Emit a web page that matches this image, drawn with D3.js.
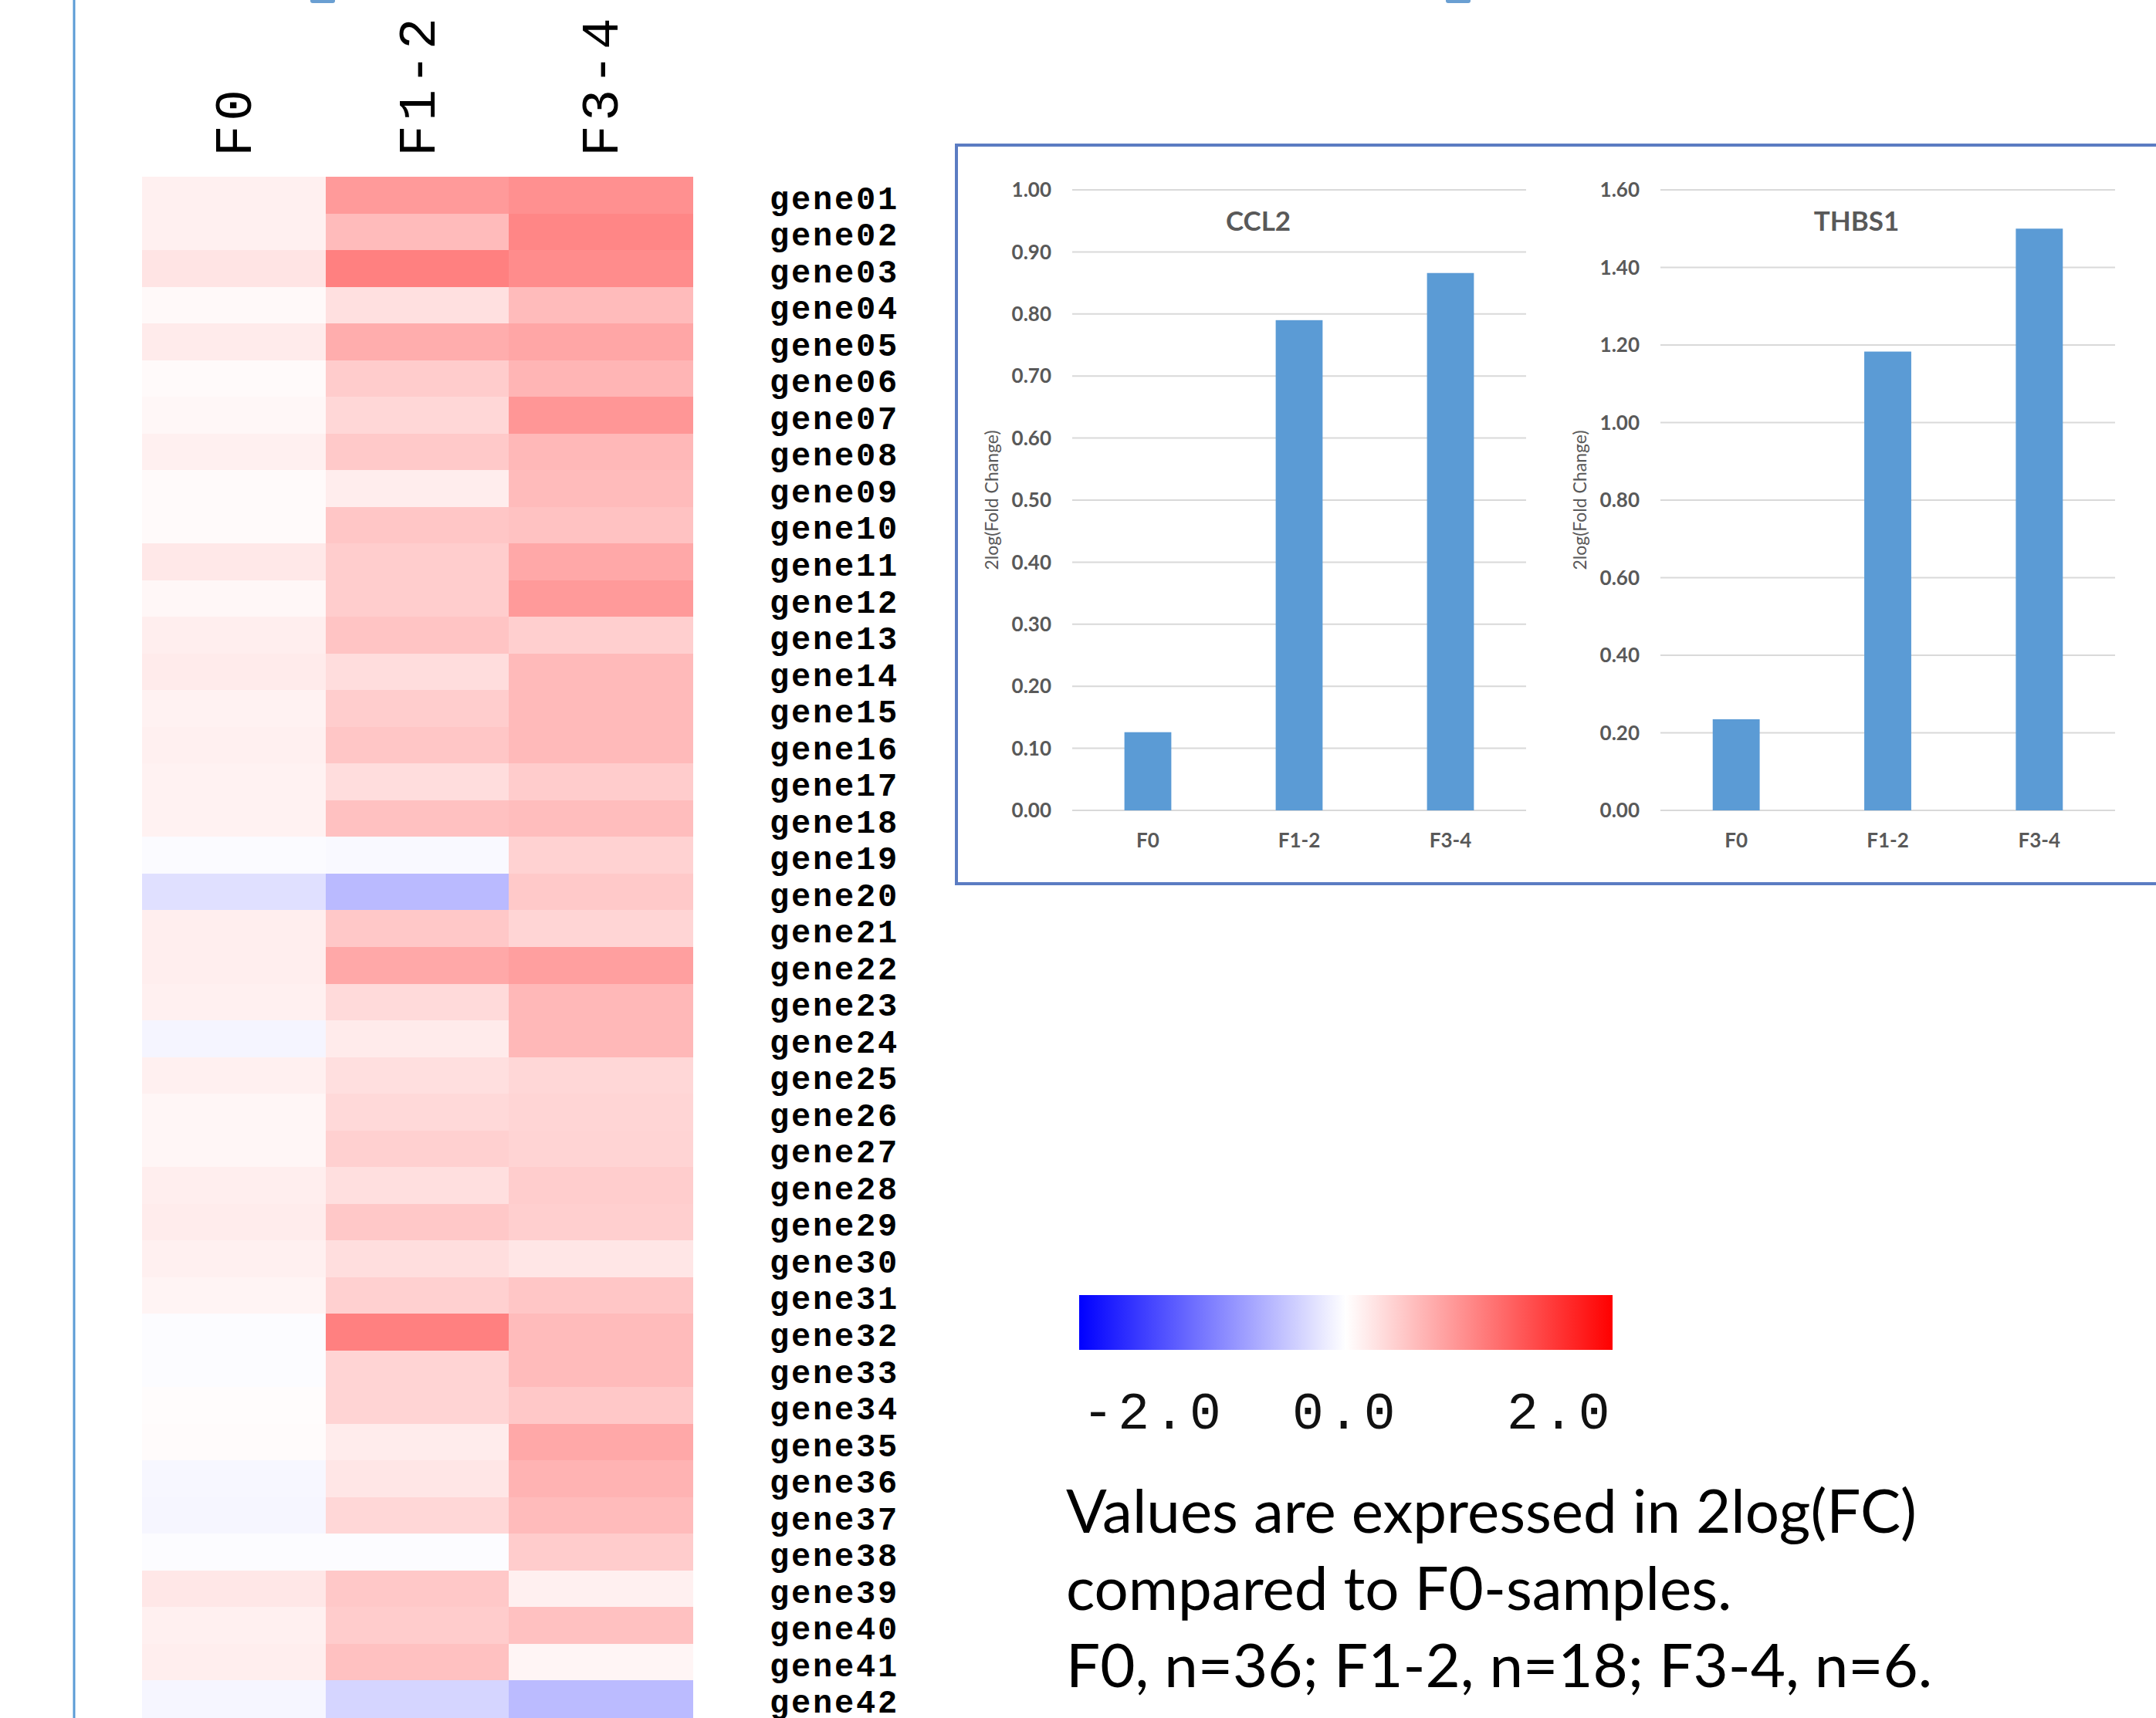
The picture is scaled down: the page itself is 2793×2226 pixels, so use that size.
<!DOCTYPE html>
<html>
<head>
<meta charset="utf-8">
<script src="https://cdn.jsdelivr.net/npm/d3@7"></script>
<style>
  body { margin: 0; background: #fff; }
</style>
</head>
<body>
<script>
// ---- data ----
const genes = d3.range(1, 43).map(i => "gene" + String(i).padStart(2, "0"));
const groups = ["F0", "F1-2", "F3-4"];

// 2log(FC) per gene, one array per group
const f0Vals = [0.12, 0.12, 0.21, 0.05, 0.16, 0.04, 0.06, 0.12, 0.04, 0.04,
                0.18, 0.06, 0.13, 0.16, 0.10, 0.12, 0.10, 0.10, -0.03, -0.24,
                0.13, 0.13, 0.12, -0.08, 0.12, 0.07, 0.07, 0.13, 0.15, 0.12,
                0.09, -0.02, -0.02, 0.02, 0.03, -0.06, -0.07, -0.02, 0.19, 0.12,
                0.13, -0.07];
const f12Vals = [0.79, 0.53, 1.00, 0.24, 0.64, 0.40, 0.31, 0.42, 0.14, 0.45,
                 0.39, 0.39, 0.46, 0.27, 0.39, 0.45, 0.27, 0.49, -0.05, -0.54,
                 0.43, 0.68, 0.29, 0.16, 0.25, 0.30, 0.37, 0.25, 0.43, 0.26,
                 0.37, 1.00, 0.34, 0.34, 0.15, 0.20, 0.31, -0.02, 0.43, 0.40,
                 0.49, -0.33];
const f34Vals = [0.87, 0.95, 0.90, 0.53, 0.70, 0.58, 0.82, 0.56, 0.53, 0.48,
                 0.68, 0.79, 0.38, 0.54, 0.54, 0.54, 0.40, 0.52, 0.35, 0.42,
                 0.33, 0.75, 0.56, 0.56, 0.31, 0.33, 0.34, 0.39, 0.38, 0.20,
                 0.45, 0.53, 0.53, 0.43, 0.68, 0.60, 0.53, 0.40, 0.12, 0.49,
                 0.08, -0.53];

const legendTicks = [-2, 0, 2];

const barCats = ["F0", "F1-2", "F3-4"];
const ccl2Vals = [0.126, 0.79, 0.866];
const thbs1Vals = [0.235, 1.183, 1.50];

const noteLines = [
  "Values are expressed in 2log(FC)",
  "compared to F0-samples.",
  "F0, n=36; F1-2, n=18; F3-4, n=6."
];

// ---- canvas ----
const svg = d3.select("body").append("svg")
              .attr("width", 2793)
              .attr("height", 2226);

svg.append("rect").attr("width", 2793).attr("height", 2226).attr("fill", "#fff");

// left frame line + small marks on top edge
svg.append("line")
   .attr("x1", 96).attr("x2", 96)
   .attr("y1", 0).attr("y2", 2226)
   .attr("stroke", "#5b9bd5")
   .attr("stroke-width", 3);

svg.selectAll(".topmark")
   .data([402, 1873])
   .enter().append("rect")
   .attr("class", "topmark")
   .attr("x", d => d).attr("y", -6)
   .attr("width", 32).attr("height", 10)
   .attr("rx", 3)
   .attr("fill", "#6a9fd2");

// ---- heatmap ----
const heatColor = d3.scaleLinear()
                    .domain([-2, 0, 2])
                    .range(["#0000ff", "#ffffff", "#ff0000"]);

const hx = d3.scaleBand().domain(groups).range([184, 897]);
const hy = d3.scaleBand().domain(genes).range([229, 2225]);

const groupVals = [f0Vals, f12Vals, f34Vals];
const cells = [];
groups.forEach((g, j) => {
  genes.forEach((gene, i) => cells.push({group: g, gene: gene, value: groupVals[j][i]}));
});

const heat = svg.append("g");

heat.selectAll("rect")
    .data(cells)
    .enter().append("rect")
    .attr("x", d => hx(d.group))
    .attr("y", d => hy(d.gene))
    .attr("width", hx.bandwidth() + 0.5)
    .attr("height", hy.bandwidth() + 0.5)
    .attr("shape-rendering", "crispEdges")
    .attr("fill", d => heatColor(d.value));

// column labels (rotated)
heat.selectAll(".collab")
    .data(groups)
    .enter().append("text")
    .attr("class", "collab")
    .attr("transform", d => `translate(${hx(d) + hx.bandwidth() / 2 + 22}, 203) rotate(-90)`)
    .style("font-family", "Liberation Mono, DejaVu Sans Mono, monospace")
    .style("font-size", "68px")
    .style("letter-spacing", "5.5px")
    .attr("fill", "#000")
    .text(d => d);

// gene labels
heat.selectAll(".genelab")
    .data(genes)
    .enter().append("text")
    .attr("class", "genelab")
    .attr("x", 997)
    .attr("y", d => hy(d) + hy.bandwidth() / 2 + 18)
    .style("font-family", "Liberation Mono, DejaVu Sans Mono, monospace")
    .style("font-size", "42px")
    .style("font-weight", "bold")
    .style("letter-spacing", "2.8px")
    .attr("fill", "#000")
    .text(d => d);

// ---- colour legend ----
const lx = d3.scaleLinear().domain([-2, 2]).range([1398, 2089]);

const grad = svg.append("defs").append("linearGradient")
                .attr("id", "heatgrad")
                .attr("x1", "0%").attr("x2", "100%");
d3.range(-2, 2.01, 0.5).forEach(v => {
  grad.append("stop")
      .attr("offset", ((v + 2) / 4 * 100) + "%")
      .attr("stop-color", heatColor(v));
});

svg.append("rect")
   .attr("x", lx(-2)).attr("y", 1678)
   .attr("width", lx(2) - lx(-2)).attr("height", 71)
   .attr("fill", "url(#heatgrad)");

svg.selectAll(".legtick")
   .data(legendTicks)
   .enter().append("text")
   .attr("class", "legtick")
   .attr("x", (d, i) => i === 0 ? lx(d) + 4 : i === 1 ? lx(d) : lx(d) + 2)
   .attr("y", 1851)
   .attr("text-anchor", (d, i) => i === 0 ? "start" : i === 1 ? "middle" : "end")
   .style("font-family", "Liberation Mono, DejaVu Sans Mono, monospace")
   .style("font-size", "68px")
   .style("letter-spacing", "5.5px")
   .attr("fill", "#111")
   .text(d => d3.format(".1f")(d).replace("−", "-"));

// ---- note text ----
const note = svg.append("g")
                .style("font-family", "Lato, Open Sans, sans-serif")
                .attr("fill", "#000");

const noteText = note.selectAll("text")
    .data(noteLines)
    .enter().append("text")
    .attr("x", 1381)
    .attr("y", (d, i) => 1986 + i * 100)
    .style("font-size", "80px")
    .text(d => d);

// fit first line to the width seen in the picture
const w0 = noteText.node().getComputedTextLength();
noteText.style("font-size", (80 * 1102 / w0) + "px");

// ---- bar charts ----
svg.append("rect")
   .attr("x", 1239).attr("y", 188)
   .attr("width", 1600).attr("height", 957)
   .attr("fill", "none")
   .attr("stroke", "#5b7cc2")
   .attr("stroke-width", 4);

const charts = [
  {title: "CCL2", values: ccl2Vals, max: 1.0, step: 0.1, left: 1389, right: 1977, titleX: 1630},
  {title: "THBS1", values: thbs1Vals, max: 1.6, step: 0.2, left: 2151, right: 2740, titleX: 2405}
];

const plotTop = 246, plotBottom = 1050;

charts.forEach(c => {
  const g = svg.append("g").style("font-family", "Lato, Open Sans, sans-serif");

  const x = d3.scaleBand()
              .domain(barCats)
              .range([c.left, c.right])
              .paddingInner(0.69)
              .paddingOuter(0.345);
  const y = d3.scaleLinear().domain([0, c.max]).range([plotBottom, plotTop]);
  const ticks = d3.range(0, c.max + c.step / 2, c.step);

  // gridlines
  g.selectAll(".grid")
   .data(ticks)
   .enter().append("line")
   .attr("x1", c.left).attr("x2", c.right)
   .attr("y1", d => y(d)).attr("y2", d => y(d))
   .attr("stroke", "#d9d9d9")
   .attr("stroke-width", 2);

  // tick labels
  g.selectAll(".tick")
   .data(ticks)
   .enter().append("text")
   .attr("x", c.left - 27)
   .attr("y", d => y(d))
   .attr("dy", "0.35em")
   .attr("text-anchor", "end")
   .style("font-size", "26px")
   .style("font-weight", "bold")
   .attr("fill", "#595959")
   .text(d => d3.format(".2f")(d));

  // bars
  g.selectAll(".bar")
   .data(c.values)
   .enter().append("rect")
   .attr("x", (d, i) => x(barCats[i]))
   .attr("y", d => y(d))
   .attr("width", x.bandwidth())
   .attr("height", d => y(0) - y(d))
   .attr("fill", "#5b9bd5");

  // category labels
  g.selectAll(".cat")
   .data(barCats)
   .enter().append("text")
   .attr("x", d => x(d) + x.bandwidth() / 2)
   .attr("y", 1098)
   .attr("text-anchor", "middle")
   .style("font-size", "26px")
   .style("font-weight", "bold")
   .attr("fill", "#595959")
   .text(d => d);

  // title
  g.append("text")
   .attr("x", c.titleX)
   .attr("y", 299)
   .attr("text-anchor", "middle")
   .style("font-size", "35px")
   .style("font-weight", "bold")
   .attr("fill", "#595959")
   .text(c.title);

  // y axis title
  g.append("text")
   .attr("transform", `translate(${c.left - 96}, ${(plotTop + plotBottom) / 2}) rotate(-90)`)
   .attr("text-anchor", "middle")
   .style("font-size", "23px")
   .attr("fill", "#595959")
   .text("2log(Fold Change)");
});
</script>
</body>
</html>
